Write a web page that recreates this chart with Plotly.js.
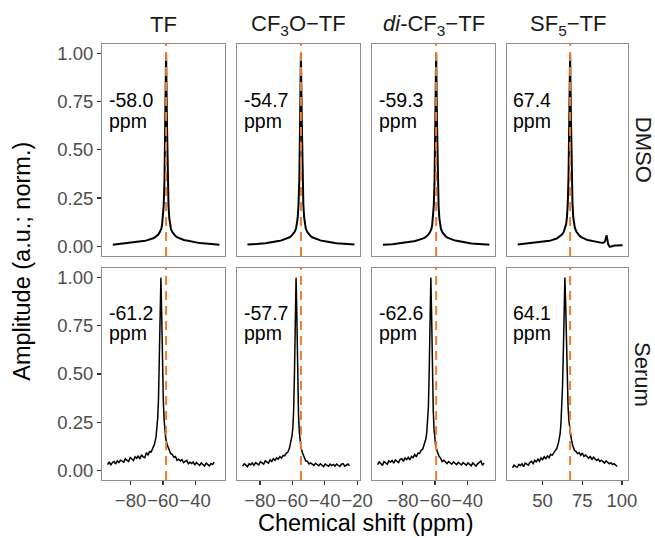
<!DOCTYPE html>
<html><head><meta charset="utf-8">
<script src="https://cdn.plot.ly/plotly-3.0.1.min.js"></script>
<style>html,body{margin:0;padding:0;background:#fff}</style>
</head><body><div id="chart" style="width:655px;height:538px"></div>
<script>
// ---------- data ----------
const compounds = ['TF', 'CF<sub>3</sub>O\u2212TF', '<i>di</i>-CF<sub>3</sub>\u2212TF', 'SF<sub>5</sub>\u2212TF'];
const solvents = ['DMSO', 'Serum'];
const dmsoPeaks = [-58.0, -54.7, -59.3, 67.4];
const serumPeaks = [-61.2, -57.7, -62.6, 64.1];
const dmsoLabels = ['-58.0', '-54.7', '-59.3', '67.4'];
const serumLabels = ['-61.2', '-57.7', '-62.6', '64.1'];
const xTickVals = [[-80, -60, -40], [-80, -60, -40, -20], [-80, -60, -40], [50, 75, 100]];
const yTickVals = [0, 0.25, 0.5, 0.75, 1];

// sample positions relative to each spectrum's own peak (ppm)
const shiftOffsets = [-33,-32,-31,-30,-29,-28,-27,-26,-25,-24,-23,-22,-21,-20,-19,-18,-17,-16,-15,-14,-13,-12,-11,-10,-9,-8,-7,-6,-5,-4,
  -3,-2.5,-2,-1.5,-1,-0.5,0,0.5,1,1.5,2,2.5,3,
  4,5,6,7,8,9,10,11,12,13,14,15,16,17,18,19,20,21,22,23,24,25,26,27,28,29,30,31,32,33];

const dmsoTF = [0.008,0.009,0.009,0.010,0.010,0.011,0.012,0.012,0.013,0.014,0.015,0.016,0.017,0.018,0.019,0.020,0.022,0.023,0.025,0.027,0.029,0.031,0.033,0.036,0.039,0.042,0.046,0.052,0.060,0.072,
  0.090,0.110,0.145,0.210,0.340,0.660,1.000,0.660,0.340,0.210,0.145,0.110,0.090,
  0.072,0.060,0.052,0.046,0.042,0.039,0.036,0.033,0.031,0.029,0.027,0.025,0.023,0.022,0.020,0.019,0.018,0.017,0.016,0.015,0.014,0.013,0.012,0.012,0.011,0.010,0.010,0.009,0.009,0.008];
const dmsoCF3O = [0.009,0.009,0.010,0.010,0.011,0.011,0.012,0.013,0.013,0.014,0.015,0.016,0.017,0.018,0.019,0.021,0.022,0.024,0.025,0.027,0.029,0.031,0.034,0.036,0.039,0.043,0.047,0.053,0.061,0.073,
  0.092,0.112,0.148,0.215,0.345,0.665,1.000,0.665,0.345,0.215,0.148,0.112,0.092,
  0.073,0.061,0.053,0.047,0.043,0.039,0.036,0.034,0.031,0.029,0.027,0.025,0.024,0.022,0.021,0.019,0.018,0.017,0.016,0.015,0.014,0.013,0.013,0.012,0.011,0.011,0.010,0.010,0.009,0.009];
const dmsoDiCF3 = [0.008,0.008,0.009,0.009,0.010,0.011,0.011,0.012,0.013,0.013,0.014,0.015,0.016,0.017,0.018,0.020,0.021,0.023,0.024,0.026,0.028,0.030,0.032,0.035,0.038,0.041,0.045,0.051,0.059,0.071,
  0.089,0.108,0.143,0.208,0.338,0.655,1.000,0.655,0.338,0.208,0.143,0.108,0.089,
  0.071,0.059,0.051,0.045,0.041,0.038,0.035,0.032,0.030,0.028,0.026,0.024,0.023,0.021,0.020,0.018,0.017,0.016,0.015,0.014,0.013,0.013,0.012,0.011,0.011,0.010,0.010,0.009,0.009,0.008];
const dmsoSF5 = [0.010,0.011,0.011,0.012,0.012,0.013,0.013,0.014,0.015,0.015,0.016,0.017,0.018,0.019,0.020,0.021,0.022,0.024,0.025,0.027,0.029,0.031,0.033,0.036,0.039,0.043,0.048,0.054,0.062,0.075,
  0.095,0.115,0.150,0.220,0.360,0.680,1.000,0.680,0.360,0.220,0.150,0.115,0.095,
  0.075,0.062,0.054,0.048,0.043,0.039,0.036,0.033,0.031,0.029,0.027,0.025,0.023,0.022,0.020,0.019,0.018,0.018,0.026,0.057,0.010,-0.003,0.000,0.003,0.004,0.004,0.005,0.004,0.005,0.005];

const serumTF = [0.030,0.044,0.027,0.041,0.046,0.033,0.050,0.041,0.053,0.048,0.043,0.060,0.054,0.046,0.067,0.058,0.051,0.071,0.063,0.076,0.059,0.081,0.070,0.066,0.092,0.080,0.097,0.096,0.116,0.135,
  0.175,0.215,0.270,0.370,0.540,0.820,1.000,0.800,0.520,0.360,0.260,0.205,0.165,
  0.130,0.108,0.088,0.083,0.068,0.072,0.052,0.058,0.049,0.056,0.040,0.047,0.052,0.034,0.042,0.036,0.044,0.027,0.041,0.033,0.026,0.039,0.030,0.022,0.037,0.029,0.023,0.035,0.030,0.042];
const serumCF3O = [0.022,0.034,0.027,0.019,0.034,0.029,0.038,0.026,0.040,0.034,0.028,0.045,0.039,0.032,0.049,0.044,0.038,0.055,0.046,0.060,0.052,0.065,0.058,0.071,0.064,0.077,0.076,0.090,0.095,0.118,
  0.150,0.180,0.220,0.310,0.500,0.800,1.000,0.790,0.480,0.290,0.200,0.150,0.120,
  0.090,0.070,0.048,0.047,0.033,0.039,0.031,0.026,0.037,0.029,0.024,0.034,0.028,0.020,0.033,0.026,0.021,0.032,0.025,0.031,0.022,0.033,0.027,0.020,0.032,0.035,0.022,0.029,0.033,0.024];
const serumDiCF3 = [0.030,0.044,0.036,0.025,0.046,0.040,0.032,0.049,0.043,0.051,0.037,0.054,0.048,0.040,0.057,0.061,0.047,0.064,0.056,0.068,0.054,0.072,0.066,0.082,0.070,0.090,0.088,0.104,0.111,0.140,
  0.165,0.200,0.250,0.330,0.520,0.810,1.000,0.800,0.500,0.310,0.210,0.160,0.125,
  0.098,0.074,0.064,0.046,0.052,0.042,0.035,0.046,0.039,0.032,0.044,0.036,0.030,0.042,0.033,0.028,0.040,0.034,0.027,0.039,0.031,0.024,0.038,0.029,0.022,0.034,0.041,0.048,0.026,0.038];
const serumSF5 = [0.013,0.027,0.021,0.016,0.031,0.025,0.034,0.019,0.038,0.031,0.027,0.042,0.047,0.035,0.052,0.044,0.058,0.047,0.065,0.055,0.071,0.061,0.075,0.066,0.083,0.078,0.091,0.106,0.115,0.145,
  0.190,0.240,0.310,0.430,0.600,0.850,1.000,0.860,0.620,0.450,0.330,0.260,0.215,
  0.165,0.128,0.104,0.099,0.086,0.092,0.078,0.090,0.072,0.080,0.068,0.062,0.074,0.056,0.068,0.060,0.051,0.058,0.046,0.053,0.047,0.038,0.049,0.042,0.034,0.040,0.030,0.035,0.025,0.020,0.022];

const dmsoSpectra = [dmsoTF, dmsoCF3O, dmsoDiCF3, dmsoSF5];
const serumSpectra = [serumTF, serumCF3O, serumDiCF3, serumSF5];

// ---------- layout / style ----------
const W = 655, H = 538;
const FONT = 'Liberation Sans, Arial, Helvetica, sans-serif';
const ORANGE = '#EE7E2C';
const colPx = [[102, 225], [237, 360], [372, 495], [507, 628]];
const rowPx = [[43.5, 256], [268, 480]];
const peaksByRow = [dmsoPeaks, serumPeaks];
const spectraByRow = [dmsoSpectra, serumSpectra];
const labelsByRow = [dmsoLabels, serumLabels];
const labelY = [[0.755, 0.648], [0.818, 0.711]];

const traces = [];
const layout = {
  width: W, height: H, margin: {l: 0, r: 0, t: 0, b: 0},
  paper_bgcolor: '#fff', plot_bgcolor: '#fff', showlegend: false,
  font: {family: FONT, color: '#000'},
  shapes: [], annotations: []
};

// column x ranges: union of both rows' data, 5% expansion
const xRanges = [0, 1, 2, 3].map(c => {
  const xs = [];
  [0, 1].forEach(r => shiftOffsets.forEach(o => xs.push(peaksByRow[r][c] + o)));
  const lo = Math.min(...xs), hi = Math.max(...xs), pad = (hi - lo) * 0.05;
  return [lo - pad, hi + pad];
});

for (let r = 0; r < 2; r++) {
  for (let c = 0; c < 4; c++) {
    const idx = r * 4 + c + 1;
    const xa = idx === 1 ? 'x' : 'x' + idx;
    const ya = idx === 1 ? 'y' : 'y' + idx;
    const peak = peaksByRow[r][c];
    traces.push({
      type: 'scatter', mode: 'lines', xaxis: xa, yaxis: ya,
      x: shiftOffsets.map(o => +(peak + o).toFixed(2)),
      y: spectraByRow[r][c],
      line: {color: '#000', width: r === 0 ? 2 : 1.5},
      hoverinfo: 'skip'
    });
    layout['xaxis' + (idx === 1 ? '' : idx)] = {
      domain: [colPx[c][0] / W, colPx[c][1] / W], range: xRanges[c], anchor: ya,
      showgrid: false, zeroline: false, showline: true, mirror: true,
      linecolor: '#8f8f8f', linewidth: 1,
      ticks: r === 1 ? 'outside' : '', showticklabels: r === 1,
      tickvals: xTickVals[c], ticklen: 4, tickwidth: 1.3, tickcolor: '#333',
      tickangle: 0, tickfont: {family: FONT, size: 18.5, color: '#4d4d4d'}, fixedrange: true
    };
    layout['yaxis' + (idx === 1 ? '' : idx)] = {
      domain: [1 - rowPx[r][1] / H, 1 - rowPx[r][0] / H], range: [-0.05, 1.05], anchor: xa,
      showgrid: false, zeroline: false, showline: true, mirror: true,
      linecolor: '#8f8f8f', linewidth: 1,
      ticks: c === 0 ? 'outside' : '', showticklabels: c === 0,
      tickvals: yTickVals, tickformat: '.2f', ticklen: 4, tickwidth: 1.3, tickcolor: '#333',
      tickfont: {family: FONT, size: 18.5, color: '#4d4d4d'}, fixedrange: true
    };
    // reference line at the DMSO peak
    layout.shapes.push({
      type: 'line', xref: xa, yref: ya + ' domain', layer: 'above',
      x0: dmsoPeaks[c], x1: dmsoPeaks[c], y0: 0, y1: 1,
      line: {color: ORANGE, width: 2, dash: '9px,6px'}
    });
    // peak label
    layout.annotations.push({
      xref: xa + ' domain', yref: ya, x: 0.045, y: labelY[r][0], xanchor: 'left', yanchor: 'middle',
      text: labelsByRow[r][c], showarrow: false, borderpad: 0, font: {family: FONT, size: 19.5, color: '#000'}
    });
    layout.annotations.push({
      xref: xa + ' domain', yref: ya, x: 0.045, y: labelY[r][1], xanchor: 'left', yanchor: 'middle',
      text: 'ppm', showarrow: false, borderpad: 0, font: {family: FONT, size: 19.5, color: '#000'}
    });
  }
}

// strip labels
compounds.forEach((t, c) => layout.annotations.push({
  xref: 'paper', yref: 'paper', x: (colPx[c][0] + colPx[c][1]) / 2 / W, y: 1 - 25 / H,
  xanchor: 'center', yanchor: 'middle', text: t, showarrow: false,
  font: {family: FONT, size: 22, color: '#1a1a1a'}
}));
solvents.forEach((t, r) => layout.annotations.push({
  xref: 'paper', yref: 'paper', x: 643 / W, y: 1 - (rowPx[r][0] + rowPx[r][1]) / 2 / H,
  xanchor: 'center', yanchor: 'middle', textangle: 90, text: t, showarrow: false,
  font: {family: FONT, size: 22, color: '#1a1a1a'}
}));
// axis titles
layout.annotations.push({
  xref: 'paper', yref: 'paper', x: 22 / W, y: 1 - (rowPx[0][0] + rowPx[1][1]) / 2 / H,
  xanchor: 'center', yanchor: 'middle', textangle: -90, text: 'Amplitude (a.u.; norm.)',
  showarrow: false, font: {family: FONT, size: 23.5, color: '#000'}
});
layout.annotations.push({
  xref: 'paper', yref: 'paper', x: (colPx[0][0] + colPx[3][1]) / 2 / W, y: 1 - 523 / H,
  xanchor: 'center', yanchor: 'middle', text: 'Chemical shift (ppm)',
  showarrow: false, font: {family: FONT, size: 23.5, color: '#000'}
});

Plotly.newPlot('chart', traces, layout, {staticPlot: true, displayModeBar: false});
</script>
</body></html>
